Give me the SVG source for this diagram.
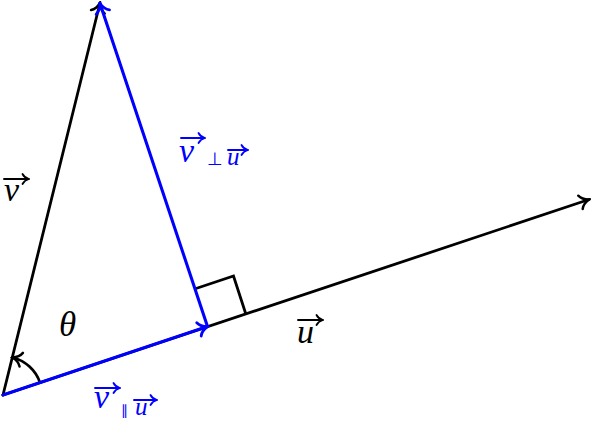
<svg xmlns="http://www.w3.org/2000/svg" width="593" height="421" viewBox="0 0 593 421">
<defs>
<style>
.blk{stroke:#000;stroke-width:2.8;fill:none;stroke-linecap:round}
.blu{stroke:#0000ff;stroke-width:3.1;fill:none;stroke-linecap:round}
.m{font-family:"Liberation Serif","Times New Roman",serif;font-style:italic}
.ov{stroke-width:1.9;fill:none;stroke-linecap:round}
</style>
<marker id="ahK" viewBox="-11 -9 13 18" markerWidth="13" markerHeight="18" refX="0" refY="0" orient="auto" markerUnits="userSpaceOnUse">
<path d="M-9,-7 C-7,-2.8 -2.2,-0.7 0,0 C-2.2,0.7 -7,2.8 -9,7" stroke="#000" stroke-width="2.5" fill="none" stroke-linecap="round"/>
</marker>
<marker id="ahB" viewBox="-11 -9 13 18" markerWidth="13" markerHeight="18" refX="0" refY="0" orient="auto" markerUnits="userSpaceOnUse">
<path d="M-9,-7 C-7,-2.8 -2.2,-0.7 0,0 C-2.2,0.7 -7,2.8 -9,7" stroke="#0000ff" stroke-width="2.8" fill="none" stroke-linecap="round"/>
</marker>
<marker id="sK" viewBox="-9 -7 11 14" markerWidth="11" markerHeight="14" refX="0" refY="0" orient="auto" markerUnits="userSpaceOnUse">
<path d="M-6.5,-5 C-5,-2 -2,-0.5 0,0 C-2,0.5 -5,2 -6.5,5" stroke="#000" stroke-width="1.8" fill="none" stroke-linecap="round"/>
</marker>
<marker id="sB" viewBox="-9 -7 11 14" markerWidth="11" markerHeight="14" refX="0" refY="0" orient="auto" markerUnits="userSpaceOnUse">
<path d="M-6.5,-5 C-5,-2 -2,-0.5 0,0 C-2,0.5 -5,2 -6.5,5" stroke="#0000ff" stroke-width="1.8" fill="none" stroke-linecap="round"/>
</marker>
</defs>
<g id="connectors">
<line id="u" class="blk" x1="3" y1="395" x2="589" y2="199.5" marker-end="url(#ahK)"/>
<line id="v" class="blk" x1="3" y1="395" x2="100" y2="3" marker-end="url(#ahK)"/>
<polyline id="right-angle" class="blk" points="196,288.5 233.5,276 245.5,313"/>
<path id="theta-arc" class="blk" d="M40,382.6 A39 39 0 0 0 12.5,357.5" marker-end="url(#ahK)"/>
<line id="v-par" class="blu" x1="3" y1="395" x2="207.5" y2="326.5" marker-end="url(#ahB)"/>
<line id="v-perp" class="blu" x1="207.5" y1="326.5" x2="100" y2="3.5" marker-end="url(#ahB)"/>
</g>
<g id="label-v">
<text class="m" x="4" y="201" font-size="34" fill="#000">v</text>
<line class="ov" stroke="#000" x1="4" y1="179" x2="29" y2="179" marker-end="url(#sK)"/>
</g>
<g id="label-u">
<text class="m" x="297" y="343" font-size="34" fill="#000">u</text>
<line class="ov" stroke="#000" x1="298" y1="320" x2="323" y2="320" marker-end="url(#sK)"/>
</g>
<g id="label-theta">
<text class="m" x="59" y="336" font-size="35" fill="#000">θ</text>
</g>
<g id="label-vperp" fill="#0000ff">
<text class="m" x="179" y="162" font-size="34">v</text>
<line class="ov" stroke="#0000ff" x1="181" y1="138" x2="205" y2="138" marker-end="url(#sB)"/>
<text x="207" y="165" font-size="18" font-family="'DejaVu Sans',sans-serif">⊥</text>
<text class="m" x="227" y="165" font-size="25">u</text>
<line class="ov" stroke="#0000ff" x1="228" y1="150" x2="248" y2="150" marker-end="url(#sB)"/>
</g>
<g id="label-vpar" fill="#0000ff">
<text class="m" x="94" y="408" font-size="34">v</text>
<line class="ov" stroke="#0000ff" x1="95" y1="388" x2="120" y2="388" marker-end="url(#sB)"/>
<text x="121" y="415" font-size="14" font-family="'DejaVu Sans',sans-serif">∥</text>
<text class="m" x="135" y="415" font-size="25">u</text>
<line class="ov" stroke="#0000ff" x1="134" y1="400" x2="157" y2="400" marker-end="url(#sB)"/>
</g>
</svg>
